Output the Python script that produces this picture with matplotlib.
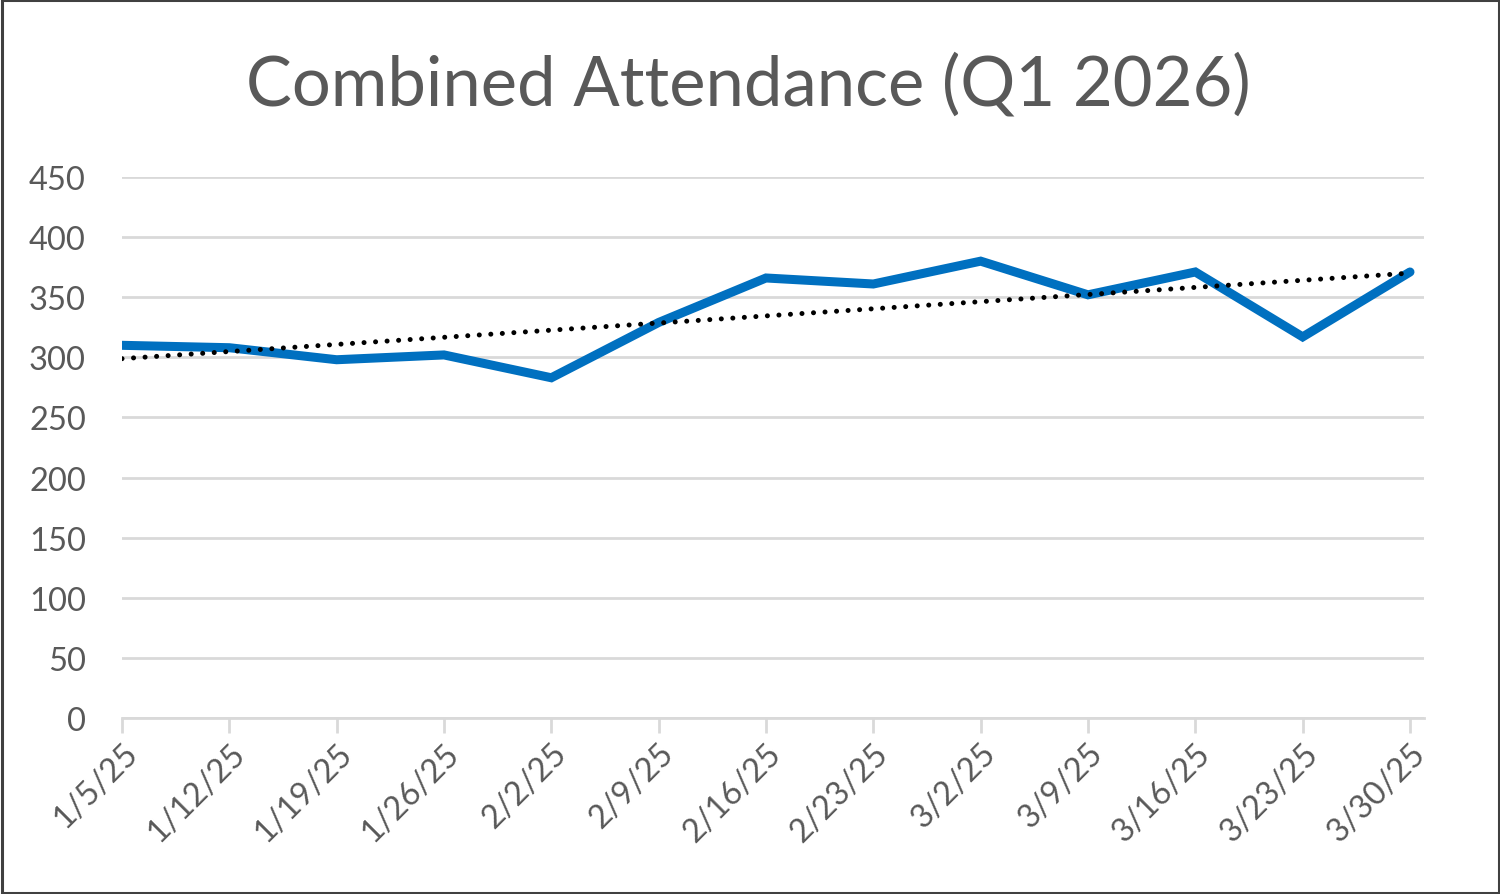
import matplotlib
matplotlib.use("Agg")
import matplotlib.pyplot as plt
import numpy as np
from matplotlib.patches import Rectangle

dates = ["1/5/25", "1/12/25", "1/19/25", "1/26/25", "2/2/25", "2/9/25", "2/16/25",
         "2/23/25", "3/2/25", "3/9/25", "3/16/25", "3/23/25", "3/30/25"]
attendance = [310, 308, 298, 302, 283, 329, 366, 361, 380, 352, 371, 317, 371]
yticks = [0, 50, 100, 150, 200, 250, 300, 350, 400, 450]
title = "Combined Attendance (Q1 2026)"

plt.rcParams['font.family'] = ['Lato', 'DejaVu Sans']
fig = plt.figure(figsize=(15, 8.95), dpi=100)
ax = fig.add_axes([122/1500, 1-719/895, (1424-122)/1500, (719-178)/895])

x = np.arange(len(dates))
y = np.array(attendance, dtype=float)
coef = np.polyfit(x, y, 1)
trend = np.polyval(coef, x)

ax.plot(x, y, color="#0070C0", lw=6.5, solid_capstyle="round", solid_joinstyle="miter", zorder=3)
ax.plot(x, trend, color="black", lw=3.6, linestyle=(0, (0.01, 2.3)), dash_capstyle="round", zorder=4)

ax.set_ylim(0, 450)
ax.set_xlim(0, len(dates) - 1 + 14/107.3)
ax.set_yticks(yticks)
ax.yaxis.grid(True, color="#D9D9D9", lw=2)
ax.set_axisbelow(True)
for s in ["top", "right", "left"]:
    ax.spines[s].set_visible(False)
ax.spines["bottom"].set_color("#D9D9D9")
ax.spines["bottom"].set_linewidth(2)
ax.spines["bottom"].set_zorder(1)
ax.tick_params(axis="y", length=0, pad=26, labelsize=23.5, labelcolor="#595959")
ax.tick_params(axis="x", length=11, width=2, color="#D9D9D9", labelsize=23.5, labelcolor="#595959", pad=3)
ax.set_xticks(x)
ax.set_xticklabels(dates, rotation=45, ha="right", rotation_mode="anchor")

fig.text(0.4987, 1-85/895, title, ha="center", va="center", fontsize=49.5, color="#595959")
fig.add_artist(Rectangle((0.001, 0.001), 0.998, 0.998, transform=fig.transFigure,
                         fill=False, edgecolor="#404040", lw=2.2))
fig.savefig("out.png", dpi=100)
